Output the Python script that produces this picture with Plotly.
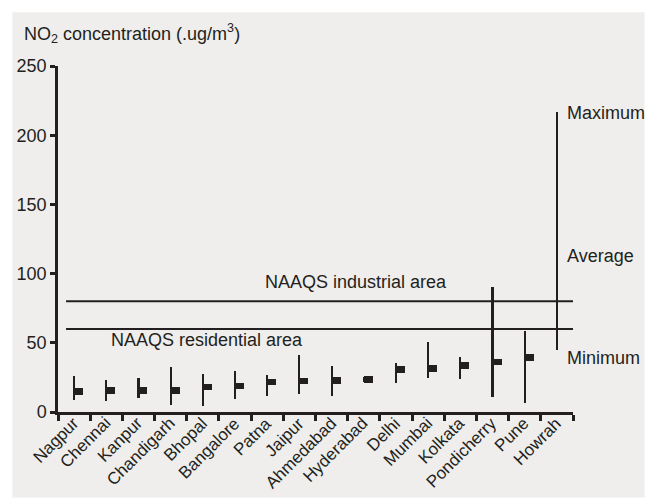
import plotly.graph_objects as go

# NO2 concentration by city (ug/m3): minimum, average, maximum
cities = ["Nagpur", "Chennai", "Kanpur", "Chandigarh", "Bhopal", "Bangalore",
          "Patna", "Jaipur", "Ahmedabad", "Hyderabad", "Delhi", "Mumbai",
          "Kolkata", "Pondicherry", "Pune", "Howrah"]
no2_min = [8.4, 7.7, 10.4, 5.3, 4.3, 9.2, 11.5, 13.3, 11.5, 22.0, 20.9, 24.5,
           23.8, 10.8, 6.5, 45.0]
no2_avg = [14.9, 15.7, 15.7, 15.7, 18.0, 18.8, 21.6, 22.4, 22.9, 23.4, 30.6, 31.3,
           33.5, 36.1, 39.2, None]
no2_max = [25.8, 22.9, 24.8, 32.5, 27.7, 29.4, 26.5, 40.9, 33.0, 25.0, 35.4, 50.3,
           39.5, 90.4, 58.4, 217.0]

# National ambient air quality standards
naaqs_industrial = 80
naaqs_residential = 60

y_ticks = [0, 50, 100, 150, 200, 250]

INK = "#231f20"
PANEL = "#efeeec"
FONT = "Liberation Sans, Arial, sans-serif"

avg_thickness = 4.7  # height of the average marker bar, in ug/m3

fig = go.Figure()

# min-max range lines
fig.add_trace(go.Bar(
    x=cities,
    y=[hi - lo for lo, hi in zip(no2_min, no2_max)],
    base=no2_min,
    width=0.065,
    offset=-0.0325,
    marker=dict(color=INK, line=dict(width=0)),
    showlegend=False,
    hoverinfo="skip",
))

# average markers, drawn to the right of each range line
avg_x = [c for c, a in zip(cities, no2_avg) if a is not None]
avg_v = [a for a in no2_avg if a is not None]
fig.add_trace(go.Bar(
    x=avg_x,
    y=[avg_thickness] * len(avg_v),
    base=[a - avg_thickness / 2 for a in avg_v],
    width=0.28,
    offset=0.0,
    marker=dict(color=INK, line=dict(width=0)),
    showlegend=False,
    hoverinfo="skip",
))

shapes = [
    # grey panel behind the whole chart
    dict(type="rect", xref="paper", yref="paper",
         x0=-0.0886, x1=1.139, y0=-0.247, y1=1.155,
         fillcolor=PANEL, line=dict(width=0), layer="below"),
    dict(type="line", xref="x", yref="y", x0=-0.25, x1=15.5,
         y0=naaqs_industrial, y1=naaqs_industrial,
         line=dict(color=INK, width=2)),
    dict(type="line", xref="x", yref="y", x0=-0.25, x1=15.5,
         y0=naaqs_residential, y1=naaqs_residential,
         line=dict(color=INK, width=2)),
]

txt = dict(family=FONT, size=18, color=INK)
annotations = [
    dict(text="NO<sub>2</sub> concentration (.ug/m<sup>3</sup>)",
         xref="paper", yref="paper", x=-0.07, y=1.094,
         xanchor="left", yanchor="middle", showarrow=False, font=txt),
    dict(text="NAAQS industrial area", xref="x", yref="y", x=8.76, y=94,
         xanchor="center", yanchor="middle", showarrow=False, font=txt),
    dict(text="NAAQS residential area", xref="x", yref="y", x=4.12, y=52,
         xanchor="center", yanchor="middle", showarrow=False, font=txt),
    dict(text="Maximum", xref="paper", yref="y", x=0.984, y=216,
         xanchor="left", yanchor="middle", showarrow=False, font=txt),
    dict(text="Average", xref="paper", yref="y", x=0.984, y=113,
         xanchor="left", yanchor="middle", showarrow=False, font=txt),
    dict(text="Minimum", xref="paper", yref="y", x=0.984, y=39,
         xanchor="left", yanchor="middle", showarrow=False, font=txt),
]

# slanted city names under each category, set close to the axis line
for city in cities:
    annotations.append(dict(
        text=city, xref="x", yref="y", x=city, y=0,
        xanchor="right", yanchor="top", textangle=-45,
        xshift=11, yshift=1, showarrow=False,
        font=dict(family=FONT, size=17, color=INK),
    ))

fig.update_layout(
    width=651, height=503,
    margin=dict(l=58, r=78, t=66, b=91, pad=0),
    paper_bgcolor="white",
    plot_bgcolor=PANEL,
    barmode="overlay",
    bargap=0,
    font=dict(family=FONT, color=INK),
    shapes=shapes,
    annotations=annotations,
    showlegend=False,
)

fig.update_xaxes(
    type="category",
    categoryorder="array", categoryarray=cities,
    range=[-0.5, 15.5],
    automargin=False,
    showline=True, linecolor=INK, linewidth=2.5,
    ticks="outside", tickson="boundaries", ticklen=6, tickwidth=2.5, tickcolor=INK,
    showticklabels=False,
    showgrid=False, zeroline=False,
)

fig.update_yaxes(
    range=[0, 250],
    tickvals=y_ticks,
    automargin=False,
    showline=True, linecolor=INK, linewidth=2.5,
    ticks="outside", ticklen=5, tickwidth=2.5, tickcolor=INK,
    tickfont=dict(family=FONT, size=18, color=INK),
    showgrid=False, zeroline=False,
)

fig.write_html("out.html")
